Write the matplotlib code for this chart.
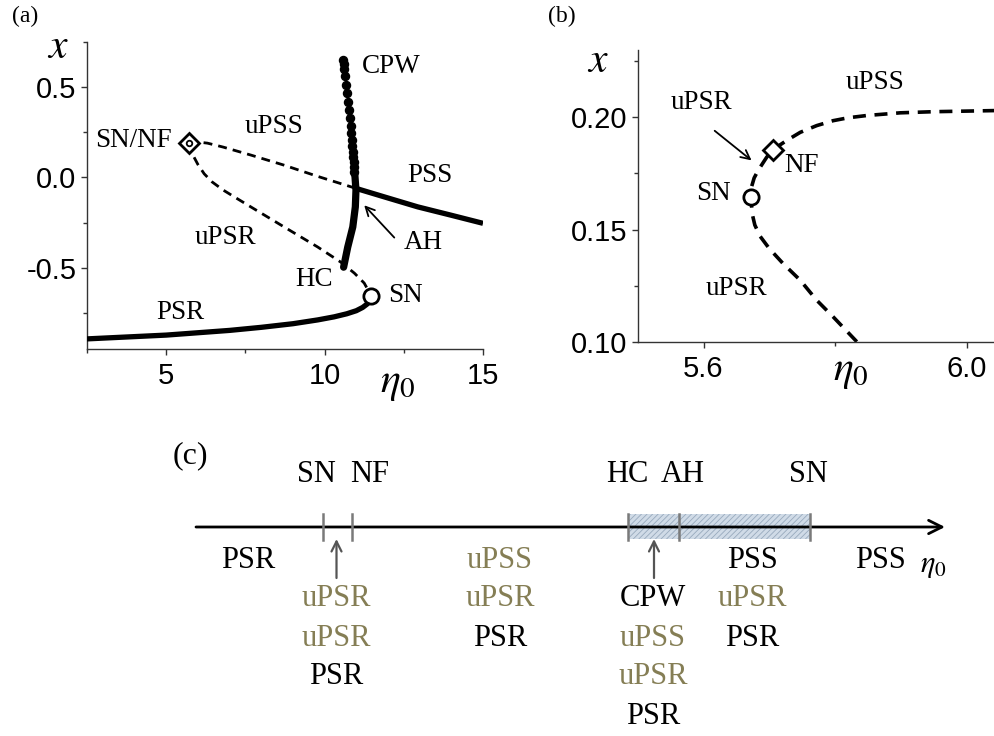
import matplotlib
matplotlib.use('Agg')
import matplotlib.pyplot as plt
from matplotlib.patches import Rectangle
from matplotlib.ticker import MultipleLocator, FormatStrFormatter

plt.rcParams['mathtext.fontset'] = 'stix'
plt.rcParams['axes.unicode_minus'] = False
plt.rcParams['hatch.linewidth'] = 0.6

SERIF = 'Liberation Serif'
SANS = 'Liberation Sans'

# ---------------- Panel (a) data ----------------
psr_a_x = [2.5, 5.0, 7.0, 8.0, 9.0, 9.78, 10.3, 10.7, 11.0, 11.2, 11.35, 11.43, 11.48]
psr_a_y = [-0.894, -0.873, -0.847, -0.830, -0.810, -0.789, -0.772, -0.755, -0.738,
           -0.720, -0.700, -0.680, -0.658]
pss_a_x = [10.98, 11.89, 12.94, 13.99, 15.0]
pss_a_y = [-0.060, -0.108, -0.163, -0.209, -0.254]
upss_a_x = [5.71, 6.0, 6.3, 6.8, 7.67, 8.72, 9.78, 10.98]
upss_a_y = [0.189, 0.196, 0.190, 0.168, 0.124, 0.068, 0.006, -0.060]
upsr_a_x = [5.71, 5.78, 5.87, 6.0, 6.2, 6.45, 6.8, 7.2, 7.67, 8.72, 9.78, 10.52, 10.94, 11.25, 11.48]
upsr_a_y = [0.189, 0.155, 0.115, 0.072, 0.020, -0.025, -0.070, -0.113, -0.163, -0.274,
            -0.385, -0.470, -0.530, -0.585, -0.658]
cpw_dot_x = [10.59, 10.60, 10.62, 10.64, 10.67, 10.71, 10.74, 10.77, 10.80, 10.82,
             10.84, 10.85, 10.87, 10.90, 10.91, 10.92, 10.93, 10.94]
cpw_dot_y = [0.652, 0.630, 0.600, 0.559, 0.513, 0.467, 0.420, 0.374, 0.328, 0.285,
             0.244, 0.207, 0.174, 0.142, 0.114, 0.087, 0.059, 0.031]
cpw_line_x = [10.94, 10.96, 10.99, 10.97, 10.89, 10.73, 10.60]
cpw_line_y = [0.031, 0.003, -0.071, -0.163, -0.274, -0.386, -0.497]
sn_a = (11.48, -0.658)
snnf_a = (5.71, 0.189)

# ---------------- Panel (b) data ----------------
b_x = [5.833, 5.797, 5.772, 5.747, 5.721, 5.700, 5.686, 5.678, 5.674, 5.672, 5.673, 5.677,
       5.683, 5.690, 5.696, 5.705, 5.726, 5.747, 5.772, 5.797, 5.820, 5.848, 5.899, 5.949, 6.043]
b_y = [0.100, 0.1111, 0.1185, 0.1274, 0.1348, 0.1415, 0.147, 0.152, 0.157, 0.1644, 0.169,
       0.173, 0.1763, 0.1795, 0.1822, 0.1855, 0.1896, 0.1933, 0.1963, 0.1985, 0.1998, 0.2008,
       0.2020, 0.2025, 0.2030]
sn_b = (5.672, 0.1644)
nf_b = (5.705, 0.1855)

# ---------------- Panel (c) schematic data ----------------
c_line = (196, 945)
c_bif_labels = ['SN', 'NF', 'HC', 'AH', 'SN']
c_bif_pos = [323, 352, 628, 679, 810]
c_bif_label_pos = [316, 370, 627, 683, 808]
c_shade = (628, 810)
c_col_x = [248, 336, 500, 653, 752, 880]
c_col_row0 = [0, 1, 0, 1, 0, 0]
c_col_texts = [['PSR'], ['uPSR', 'uPSR', 'PSR'], ['uPSS', 'uPSR', 'PSR'],
               ['CPW', 'uPSS', 'uPSR', 'PSR'], ['PSS', 'uPSR', 'PSR'], ['PSS']]
c_arrow_x = [336.5, 654]

OLIVE = '#857e55'

fig = plt.figure(figsize=(9.95, 7.36), dpi=100)

# ---- panel (c) axes (schematic coordinates) ----
axc = fig.add_axes([0, 0, 1, 1])
axc.set_xlim(0, 995)
axc.set_ylim(736, 0)
axc.axis('off')
line_y = 527
axc.add_patch(Rectangle((c_shade[0], 514), c_shade[1] - c_shade[0], 25,
                        facecolor='#d0dbe7', edgecolor='#98aabd', hatch='//////', lw=0, zorder=1))
axc.annotate('', xy=(c_line[1], line_y), xytext=(c_line[0], line_y),
             arrowprops=dict(arrowstyle='->', lw=2.0, color='black', mutation_scale=24,
                             shrinkA=0, shrinkB=0), zorder=3)
for p in c_bif_pos:
    axc.plot([p, p], [514, 540], color='#7a7a7a', lw=1.8, zorder=4)
for lab, p in zip(c_bif_labels, c_bif_label_pos):
    axc.text(p, 475, lab, ha='center', va='center', fontsize=22, family=SERIF)
row_h = 39
for cx, r0, texts in zip(c_col_x, c_col_row0, c_col_texts):
    for i, t in enumerate(texts):
        col = OLIVE if t.startswith('u') else 'black'
        axc.text(cx, 560 + (r0 + i) * row_h, t, ha='center', va='center', fontsize=22,
                 family=SERIF, color=col)
for ax_x in c_arrow_x:
    axc.annotate('', xy=(ax_x, 539), xytext=(ax_x, 578),
                 arrowprops=dict(arrowstyle='->', lw=1.6, color='#555555', mutation_scale=18,
                                 shrinkA=0, shrinkB=0))
axc.text(933, 565, r'$\eta_0$', ha='center', va='center', fontsize=22)
axc.text(190, 456, '(c)', ha='center', va='center', fontsize=23, family=SERIF)


def style_axes(ax):
    for s in ['top', 'right']:
        ax.spines[s].set_visible(False)
    for s in ['left', 'bottom']:
        ax.spines[s].set_linewidth(1.0)
        ax.spines[s].set_color('#333333')
    ax.tick_params(which='major', direction='out', length=4.5, width=1.0, color='#333333')
    ax.tick_params(which='minor', direction='out', length=3, width=1.0, color='#333333')
    for lab in ax.get_xticklabels() + ax.get_yticklabels():
        lab.set_family(SANS)


# ---- panel (a) ----
axa = fig.add_axes([87 / 995, 1 - 349 / 736, 396 / 995, 307 / 736])
axa.set_xlim(2.5, 15)
axa.set_ylim(-0.95, 0.75)
axa.xaxis.set_major_locator(MultipleLocator(5))
axa.xaxis.set_minor_locator(MultipleLocator(2.5))
axa.yaxis.set_major_locator(MultipleLocator(0.5))
axa.yaxis.set_minor_locator(MultipleLocator(0.25))
axa.yaxis.set_major_formatter(FormatStrFormatter('%.1f'))
axa.xaxis.set_major_formatter(FormatStrFormatter('%d'))
axa.tick_params(axis='both', labelsize=21)
axa.tick_params(axis='y', pad=3)
axa.tick_params(axis='x', pad=5)
style_axes(axa)

dash = (3.2, 2.2)
axa.plot(psr_a_x, psr_a_y, color='black', lw=3.8, solid_capstyle='butt', zorder=3)
axa.plot(pss_a_x, pss_a_y, color='black', lw=3.8, solid_capstyle='butt', zorder=3)
axa.plot(upss_a_x, upss_a_y, color='black', lw=2.0, ls=(0, dash), zorder=2)
axa.plot(upsr_a_x, upsr_a_y, color='black', lw=2.0, ls=(0, dash), zorder=2)
axa.plot(cpw_line_x, cpw_line_y, color='black', lw=5.2, solid_capstyle='round', zorder=4)
axa.plot(cpw_dot_x, cpw_dot_y, 'o', color='black', ms=5.8, zorder=4)
axa.plot(*sn_a, 'o', ms=11, mfc='white', mec='black', mew=2, zorder=5)
axa.plot(*snnf_a, 'D', ms=10.5, mfc='white', mec='black', mew=2, zorder=5)
axa.plot(*snnf_a, 'o', ms=4, mfc='white', mec='black', mew=1.3, zorder=6)

lab_a = [('CPW', 12.1, 0.614), ('uPSS', 8.40, 0.281), ('SN/NF', 3.97, 0.207),
         ('PSS', 13.31, 0.013), ('uPSR', 6.88, -0.33), ('AH', 13.1, -0.358),
         ('HC', 9.67, -0.567), ('SN', 12.54, -0.654), ('PSR', 5.45, -0.747)]
for t, x, y in lab_a:
    axa.text(x, y, t, ha='center', va='center', fontsize=19.5, family=SERIF, zorder=7)
axa.annotate('', xy=(11.25, -0.154), xytext=(12.2, -0.333),
             arrowprops=dict(arrowstyle='->', lw=1.3, color='black', mutation_scale=16,
                             shrinkA=0, shrinkB=0))

# ---- panel (b) ----
axb = fig.add_axes([637.7 / 995, 1 - 341.7 / 736, 357.3 / 995, 291.7 / 736])
axb.set_xlim(5.5, 6.043)
axb.set_ylim(0.10, 0.23)
axb.xaxis.set_major_locator(MultipleLocator(0.4))
axb.xaxis.set_minor_locator(MultipleLocator(0.2))
axb.yaxis.set_major_locator(MultipleLocator(0.05))
axb.yaxis.set_minor_locator(MultipleLocator(0.025))
axb.yaxis.set_major_formatter(FormatStrFormatter('%.2f'))
axb.xaxis.set_major_formatter(FormatStrFormatter('%.1f'))
axb.tick_params(axis='both', labelsize=21)
axb.tick_params(axis='y', pad=3)
axb.tick_params(axis='x', pad=5)
style_axes(axb)

axb.plot(b_x, b_y, color='black', lw=2.6, ls=(0, (3.6, 2.4)), zorder=2, clip_on=True)
axb.plot(*sn_b, 'o', ms=11, mfc='white', mec='black', mew=2, zorder=5)
axb.plot(*nf_b, 'D', ms=10, mfc='white', mec='black', mew=2, zorder=5)
lab_b = [('uPSS', 5.861, 0.2156), ('uPSR', 5.597, 0.2067), ('SN', 5.615, 0.1661),
         ('NF', 5.749, 0.1785), ('uPSR', 5.650, 0.1237)]
for t, x, y in lab_b:
    axb.text(x, y, t, ha='center', va='center', fontsize=19.5, family=SERIF, zorder=7)
axb.annotate('', xy=(5.673, 0.1808), xytext=(5.617, 0.194),
             arrowprops=dict(arrowstyle='->', lw=1.3, color='black', mutation_scale=16,
                             shrinkA=0, shrinkB=0))

# ---- outer labels ----
fig.text(25 / 995, 1 - 16 / 736, '(a)', ha='center', va='center', fontsize=17, family=SERIF)
fig.text(562 / 995, 1 - 16 / 736, '(b)', ha='center', va='center', fontsize=17, family=SERIF)
fig.text(58 / 995, 1 - 46 / 736, r'$x$', ha='center', va='center', fontsize=30)
fig.text(598 / 995, 1 - 60 / 736, r'$x$', ha='center', va='center', fontsize=30)
fig.text(398 / 995, 1 - 382 / 736, r'$\eta_0$', ha='center', va='center', fontsize=30)
fig.text(851 / 995, 1 - 370 / 736, r'$\eta_0$', ha='center', va='center', fontsize=30)

fig.savefig('out.png', dpi=100)
